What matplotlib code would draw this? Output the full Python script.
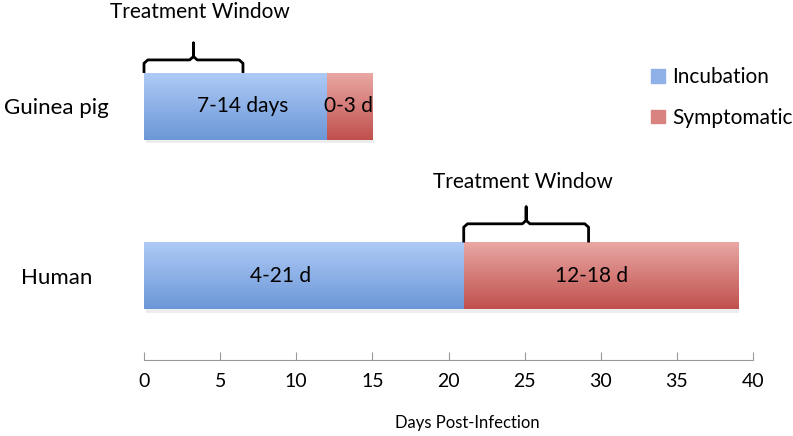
import numpy as np
import matplotlib.pyplot as plt
import matplotlib.colors as mcolors

plt.rcParams['font.family'] = ['Lato', 'DejaVu Sans']

# data
species = ['Human', 'Guinea pig']
incubation = [21, 12]
symptomatic = [18, 3]
inc_labels = ['4-21 d', '7-14 days']
sym_labels = ['12-18 d', '0-3 d']
# treatment windows (start, end) in days
windows = [(21, 29.2), (0, 6.5)]

fig = plt.figure(figsize=(7.93, 4.36), dpi=100)
ax = fig.add_axes([144/793, 76/436, (753-144)/793, 360/436])

blue = mcolors.LinearSegmentedColormap.from_list('b', ['#6c97d7', '#aecaf6'])
red = mcolors.LinearSegmentedColormap.from_list('r', ['#c0504d', '#e9a7a3'])
grad = np.linspace(0, 1, 100).reshape(-1, 1)

h = 0.395
y = np.arange(len(species))
b1 = ax.barh(y, incubation, height=h, color='#8fb1e8', label='Incubation')
b2 = ax.barh(y, symptomatic, left=incubation, height=h, color='#d98380', label='Symptomatic')

for bars, cmap in [(b1, blue), (b2, red)]:
    for p in bars:
        x0, y0 = p.get_x(), p.get_y()
        w, hh = p.get_width(), p.get_height()
        # soft shadow under the bar
        ax.fill_between([x0 + 0.1, x0 + w + 0.1], y0 - 0.02, y0, color='#000000', alpha=0.07, lw=0)
        im = ax.imshow(grad, cmap=cmap, aspect='auto', extent=[x0, x0 + w, y0, y0 + hh],
                       origin='lower', zorder=2)
        im.set_clip_path(p)

# label positions inside the bars
inc_x = [8.95, 6.45]
sym_x = [29.4, 13.4]
for i in range(len(species)):
    ax.text(inc_x[i], y[i], inc_labels[i], ha='center', va='center', fontsize=15, zorder=3)
    ax.text(sym_x[i], y[i], sym_labels[i], ha='center', va='center', fontsize=15, zorder=3)

# braces: heights above bar top (data units) for each row
mids = [0.11, 0.077]
tops = [0.21, 0.177]
txt_y = [0.30, 0.30]
for i, (s, e) in enumerate(windows):
    base = y[i] + h / 2
    mid = base + mids[i]
    top = base + tops[i]
    c = (s + e) / 2
    r = 0.25
    xs = [s, s, s + r, c - r, c, c, c, c + r, e - r, e, e]
    ys = [base, mid - 0.02, mid, mid, mid + 0.02, top, mid + 0.02, mid, mid, mid - 0.02, base]
    ax.plot(xs, ys, color='black', lw=2, solid_capstyle='butt', solid_joinstyle='round',
            zorder=4, clip_on=False)
    ax.text(c + (0.4 if i == 1 else -0.2), base + txt_y[i], 'Treatment Window',
            ha='center', va='bottom', fontsize=15, clip_on=False)

ax.set_xlim(0, 40)
ax.set_ylim(-0.496, 1.628)
ax.set_xticks(range(0, 41, 5))
ax.set_yticks(y)
ax.set_yticklabels(species, fontsize=16, ha='center')
ax.tick_params(axis='y', length=0, pad=63)
ax.tick_params(axis='x', direction='in', length=6, color='#999999', labelsize=14, pad=9)
for sp in ['top', 'right', 'left']:
    ax.spines[sp].set_visible(False)
ax.spines['bottom'].set_color('#999999')
ax.set_xlabel('Days Post-Infection', fontsize=12, va='center')
ax.xaxis.set_label_coords((467 - 144) / 609, -63 / 360)

handles = [plt.Rectangle((0, 0), 1, 1, color='#8fb1e8'), plt.Rectangle((0, 0), 1, 1, color='#d98380')]
fig.legend(handles, ['Incubation', 'Symptomatic'], loc='upper left', bbox_to_anchor=(651/793, 1 - 67/436),
           frameon=False, fontsize=15, handlelength=0.65, handleheight=0.65, handletextpad=0.35,
           labelspacing=1.0, borderaxespad=0, borderpad=0)

fig.savefig('out.png', dpi=100)
